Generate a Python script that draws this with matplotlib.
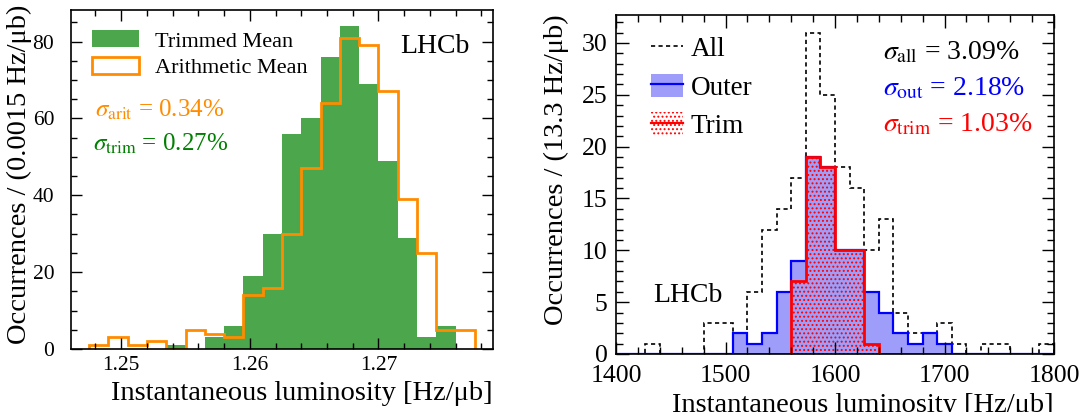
import numpy as np
import matplotlib
matplotlib.use('Agg')
import matplotlib.pyplot as plt
from matplotlib.patches import Patch
from matplotlib.lines import Line2D
from matplotlib.legend_handler import HandlerTuple
from matplotlib.ticker import MultipleLocator, FormatStrFormatter

plt.rcParams['font.family'] = ['Liberation Serif', 'DejaVu Serif']
plt.rcParams['mathtext.fontset'] = 'stix'
plt.rcParams['hatch.linewidth'] = 0.9

# left: luminosity per bunch crossing, bins of 0.0015 Hz/ub
lumi_lo = 1.2475
lumi_bw = 0.0015
arith_counts = [1, 3, 1, 2, 0, 5, 4, 3, 14, 16, 30, 47, 64, 81, 79, 67, 39, 25, 5, 5]
trimmed_counts = [0, 0, 0, 0, 1, 0, 3, 6, 19, 30, 56, 60, 76, 84, 69, 49, 29, 3, 6, 0]

# right: instantaneous luminosity, 30 bins between 1400 and 1800
inst_lo, inst_hi, inst_nbins = 1400, 1800, 30
all_counts = [0, 0, 1, 0, 0, 0, 3, 3, 2, 6, 12, 14, 17, 31, 25,
              18, 16, 10, 13, 4, 2, 2, 3, 1, 0, 1, 1, 0, 0, 1]
outer_counts = [0, 0, 0, 0, 0, 0, 0, 0, 2, 1, 2, 6, 9, 19, 18,
                10, 10, 6, 4, 2, 1, 2, 1, 0, 0, 0, 0, 0, 0, 0]
trim_counts = [0, 0, 0, 0, 0, 0, 0, 0, 0, 0, 0, 0, 7, 19, 18,
               10, 10, 1, 0, 0, 0, 0, 0, 0, 0, 0, 0, 0, 0, 0]

W, H = 1081, 412
fig = plt.figure(figsize=(W / 100, H / 100), dpi=100)


def px_axes(x0, y0, x1, y1):
    return fig.add_axes([x0 / W, 1 - y1 / H, (x1 - x0) / W, (y1 - y0) / H])


def style_ticks(ax, major_len, minor_len):
    ax.tick_params(which='both', direction='in', top=True, right=True, width=1.0)
    ax.tick_params(which='major', length=major_len)
    ax.tick_params(which='minor', length=minor_len)
    for s in ax.spines.values():
        s.set_linewidth(1.2)


# ---- left panel ----
ax1 = px_axes(71, 10, 493, 349)
edges1 = lumi_lo + lumi_bw * np.arange(len(arith_counts) + 1)
ax1.stairs(trimmed_counts, edges1, fill=True, color='green', alpha=0.7, linewidth=0)
ax1.stairs(arith_counts, edges1, color='darkorange', linewidth=2.0)
ax1.set_xlim(1.2461, 1.2789)
ax1.set_ylim(0, 88.2)
ax1.xaxis.set_major_locator(MultipleLocator(0.01))
ax1.xaxis.set_minor_locator(MultipleLocator(0.002))
ax1.xaxis.set_major_formatter(FormatStrFormatter('%.2f'))
ax1.yaxis.set_major_locator(MultipleLocator(20))
ax1.yaxis.set_minor_locator(MultipleLocator(5))
style_ticks(ax1, 8, 4.5)
ax1.tick_params(axis='x', labelsize=15.5, pad=5)
ax1.tick_params(axis='y', labelsize=15.5, pad=12)
ax1.set_xlabel('Instantaneous luminosity [Hz/μb]', fontsize=20.5, loc='right')
ax1.set_ylabel('Occurrences / (0.0015 Hz/μb)', fontsize=20.5, loc='top')
ax1.yaxis.set_label_coords(-0.092, 1.015)

h_trim = Patch(facecolor='green', alpha=0.7, edgecolor='none')
h_arit = Patch(facecolor='white', edgecolor='darkorange', linewidth=2.0)
ax1.legend([h_trim, h_arit], ['Trimmed Mean', 'Arithmetic Mean'], loc='upper left',
           bbox_to_anchor=(0.05, 0.94), frameon=False, fontsize=16,
           handlelength=2.1, handleheight=0.8, handletextpad=0.75,
           labelspacing=0.25, borderpad=0, borderaxespad=0)
ax1.text(0.78, 0.873, 'LHCb', transform=ax1.transAxes, fontsize=20, va='baseline')
ax1.text(0.057, 0.684, r'$\sigma_{\rm arit}$ = 0.34%', transform=ax1.transAxes,
         fontsize=18, color='darkorange', va='baseline')
ax1.text(0.052, 0.585, r'$\sigma_{\rm trim}$ = 0.27%', transform=ax1.transAxes,
         fontsize=18, color='green', va='baseline')

# ---- right panel ----
ax2 = px_axes(616, 15, 1054, 354)
edges2 = np.linspace(inst_lo, inst_hi, inst_nbins + 1)
outer_face = (0.62, 0.62, 0.98)
ax2.stairs(all_counts, edges2, color='black', linewidth=1.2, linestyle=(0, (2.5, 2)))
ax2.stairs(outer_counts, edges2, fill=True, color=outer_face, linewidth=0)
ax2.stairs(outer_counts, edges2, color='blue', linewidth=1.6)
ax2.stairs(trim_counts, edges2, fill=True, facecolor='none', edgecolor='red',
           hatch='....', linewidth=0)
ax2.stairs(trim_counts, edges2, color='red', linewidth=2.0)
ax2.set_xlim(inst_lo, inst_hi)
ax2.set_ylim(0, 32.7)
ax2.xaxis.set_major_locator(MultipleLocator(100))
ax2.xaxis.set_minor_locator(MultipleLocator(20))
ax2.yaxis.set_major_locator(MultipleLocator(5))
ax2.yaxis.set_minor_locator(MultipleLocator(1))
style_ticks(ax2, 9, 5)
ax2.tick_params(axis='both', labelsize=18.5)
ax2.tick_params(axis='y', pad=6)
ax2.tick_params(axis='x', pad=8)
ax2.set_xlabel('Instantaneous luminosity [Hz/μb]', fontsize=20.5, loc='right')
ax2.set_ylabel('Occurrences / (13.3 Hz/μb)', fontsize=20.5, loc='top')
ax2.yaxis.set_label_coords(-0.107, 1.003)

h_all = Line2D([], [], color='black', linewidth=1.2, linestyle=(0, (2.5, 2)))
h_out = (Patch(facecolor=outer_face, edgecolor='none'), Line2D([], [], color='blue', linewidth=1.6))
h_tr = (Patch(facecolor='white', edgecolor='red', hatch='....', linewidth=0),
        Line2D([], [], color='red', linewidth=1.6))
ax2.legend([h_all, h_out, h_tr], ['All', 'Outer', 'Trim'], loc='upper left',
           bbox_to_anchor=(0.08, 0.94), frameon=False, fontsize=19.5,
           handler_map={tuple: HandlerTuple(ndivide=1)},
           handlelength=1.18, handleheight=0.96, handletextpad=0.28,
           labelspacing=0.42, borderpad=0, borderaxespad=0)
ax2.text(0.085, 0.153, 'LHCb', transform=ax2.transAxes, fontsize=20, va='baseline')
ax2.text(0.61, 0.870, r'$\sigma_{\rm all}$ = 3.09%', transform=ax2.transAxes,
         fontsize=20, color='black', va='baseline')
ax2.text(0.61, 0.764, r'$\sigma_{\rm out}$ = 2.18%', transform=ax2.transAxes,
         fontsize=20, color='blue', va='baseline')
ax2.text(0.61, 0.658, r'$\sigma_{\rm trim}$ = 1.03%', transform=ax2.transAxes,
         fontsize=20, color='red', va='baseline')

fig.savefig('out.png', dpi=100)
